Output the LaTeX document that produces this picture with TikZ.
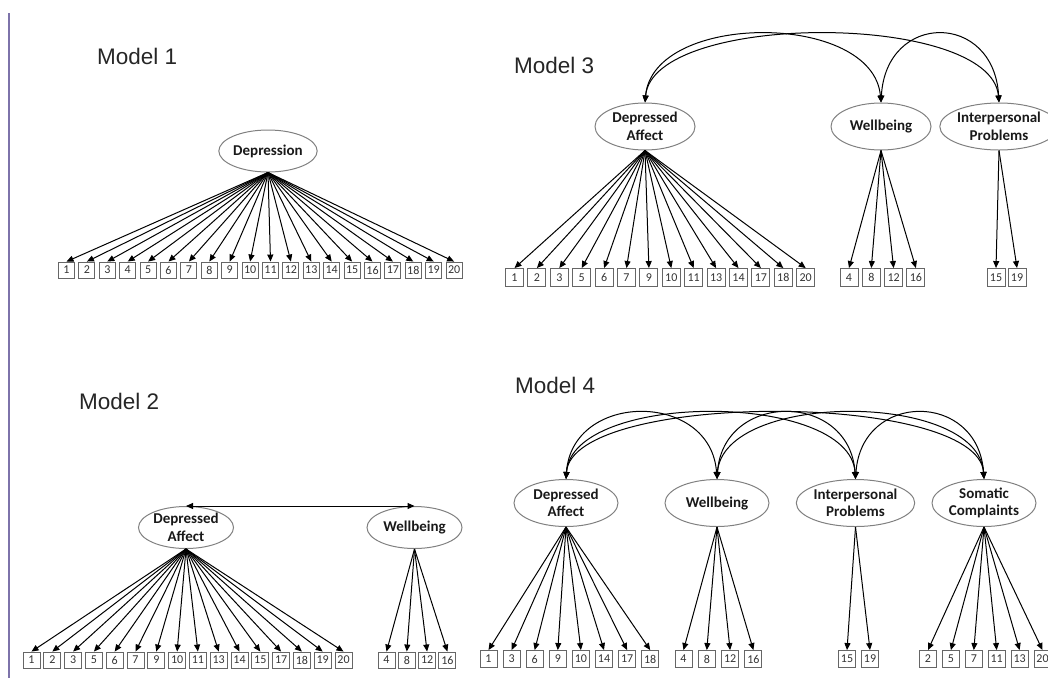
\documentclass[tikz,border=0pt]{standalone}
\usepackage{fontspec}
\setmainfont{Carlito}
\newfontfamily\titlefont{Liberation Sans}
\usetikzlibrary{arrows.meta,shapes.geometric}
\tikzset{
  lat/.style={ellipse, draw=black!50, line width=1pt, inner sep=0pt, align=center,
    font=\bfseries\fontsize{15}{17.5}\selectfont, text=black!90},
  obs/.style={rectangle, draw=black!60, line width=0.9pt, inner sep=0pt,
    font=\fontsize{12}{12}\selectfont, text=black!80},
  arr/.style={-{Triangle[length=7pt,width=6pt]}, line width=1pt, black},
  darr/.style={{Triangle[length=7pt,width=6pt]}-{Triangle[length=7pt,width=6pt]}, line width=1pt, black},
  ttl/.style={anchor=west, inner sep=0pt, font=\titlefont\fontsize{22.5}{26}\selectfont, text=black!85}
}
\begin{document}
\begin{tikzpicture}[x=1pt,y=-1pt]
\useasboundingbox (0,0) rectangle (1048,678);
% left border line
\coordinate (bt) at (9,13);
\coordinate (bb) at (9,678);
\draw[draw={rgb,255:red,125;green,115;blue,170}, line width=1.3pt] (bt) -- (bb);

% ---------------- Model 1
\node[ttl] (t1) at (97,56) {Model 1};
\node[lat, minimum width=92pt, minimum height=42pt] (m1d) at (268,151) {Depression};
\foreach \lab [count=\i from 0] in {1,...,20} {
  \node[obs, minimum width=16pt, minimum height=16pt] (m1b\lab) at ({66.5+20.4*\i},270) {\lab};
  \draw[arr] (m1d.south) -- (m1b\lab.north);
}

% ---------------- Model 2
\node[ttl] (t2) at (79,401) {Model 2};
\node[lat, minimum width=95pt, minimum height=42pt] (m2d) at (186,527.5) {Depressed\\Affect};
\node[lat, minimum width=95pt, minimum height=42pt] (m2w) at (414.5,527.5) {Wellbeing};
\draw[darr] (m2d.north) -- (m2w.north);
\foreach \lab [count=\i from 0] in {1,2,3,5,6,7,9,10,11,13,14,15,17,18,19,20} {
  \node[obs, minimum width=17pt, minimum height=16pt] (m2a\lab) at ({31.5+20.8*\i},660) {\lab};
  \draw[arr] (m2d.south) -- (m2a\lab.north);
}
\foreach \lab [count=\i from 0] in {4,8,12,16} {
  \node[obs, minimum width=17pt, minimum height=16pt] (m2b\lab) at ({386.5+20.3*\i},660) {\lab};
  \draw[arr] (m2w.south) -- (m2b\lab.north);
}

% ---------------- Model 3
\node[ttl] (t3) at (514,65) {Model 3};
\node[lat, minimum width=100pt, minimum height=47pt] (m3d) at (645,126.5) {Depressed\\Affect};
\node[lat, minimum width=100pt, minimum height=47pt] (m3w) at (881,126.5) {Wellbeing};
\node[lat, minimum width=96pt, minimum height=47pt] (m3i) at (999,126.5) {Interpersonal\\Problems};
\draw[darr] (m3d.north) .. controls +(8,-91) and +(-8,-91) .. (m3w.north);
\draw[darr] (m3d.north) .. controls +(8,-91) and +(-8,-91) .. (m3i.north);
\draw[darr] (m3w.north) .. controls +(5,-91) and +(-5,-91) .. (m3i.north);
\foreach \lab [count=\i from 0] in {1,2,3,5,6,7,9,10,11,13,14,17,18,20} {
  \node[obs, minimum width=18pt, minimum height=18pt] (m3a\lab) at ({514.5+22.4*\i},277.5) {\lab};
  \draw[arr] (m3d.south) -- (m3a\lab.north);
}
\foreach \lab [count=\i from 0] in {4,8,12,16} {
  \node[obs, minimum width=18pt, minimum height=18pt] (m3b\lab) at ({849+22.3*\i},277.5) {\lab};
  \draw[arr] (m3w.south) -- (m3b\lab.north);
}
\foreach \lab [count=\i from 0] in {15,19} {
  \node[obs, minimum width=18pt, minimum height=18pt] (m3c\lab) at ({996+21*\i},277.5) {\lab};
  \draw[arr] (m3i.south) -- (m3c\lab.north);
}

% ---------------- Model 4
\node[ttl] (t4) at (515,385) {Model 4};
\node[lat, minimum width=104pt, minimum height=47pt] (m4d) at (566,503) {Depressed\\Affect};
\node[lat, minimum width=104pt, minimum height=47pt] (m4w) at (717,503) {Wellbeing};
\node[lat, minimum width=104pt, minimum height=47pt] (m4i) at (855.5,503) {Interpersonal\\Problems};
\node[lat, minimum width=104pt, minimum height=47pt] (m4s) at (984,503) {Somatic\\Complaints};
\draw[darr] (m4d.north) .. controls +(6,-88) and +(-6,-88) .. (m4w.north);
\draw[darr] (m4d.north) .. controls +(6,-88) and +(-6,-88) .. (m4i.north);
\draw[darr] (m4d.north) .. controls +(6,-88) and +(-6,-88) .. (m4s.north);
\draw[darr] (m4w.north) .. controls +(6,-88) and +(-6,-88) .. (m4i.north);
\draw[darr] (m4w.north) .. controls +(6,-88) and +(-6,-88) .. (m4s.north);
\draw[darr] (m4i.north) .. controls +(6,-88) and +(-6,-88) .. (m4s.north);
\foreach \lab [count=\i from 0] in {1,3,6,9,10,14,17,18} {
  \node[obs, minimum width=17pt, minimum height=17pt] (m4a\lab) at ({488.5+23.1*\i},659) {\lab};
  \draw[arr] (m4d.south) -- (m4a\lab.north);
}
\foreach \lab [count=\i from 0] in {4,8,12,16} {
  \node[obs, minimum width=17pt, minimum height=17pt] (m4b\lab) at ({683.5+23.3*\i},659) {\lab};
  \draw[arr] (m4w.south) -- (m4b\lab.north);
}
\foreach \lab [count=\i from 0] in {15,19} {
  \node[obs, minimum width=17pt, minimum height=17pt] (m4c\lab) at ({847+23*\i},659) {\lab};
  \draw[arr] (m4i.south) -- (m4c\lab.north);
}
\foreach \lab [count=\i from 0] in {2,5,7,11,13,20} {
  \node[obs, minimum width=17pt, minimum height=17pt] (m4e\lab) at ({928+22.9*\i},659) {\lab};
  \draw[arr] (m4s.south) -- (m4e\lab.north);
}
\end{tikzpicture}
\end{document}
